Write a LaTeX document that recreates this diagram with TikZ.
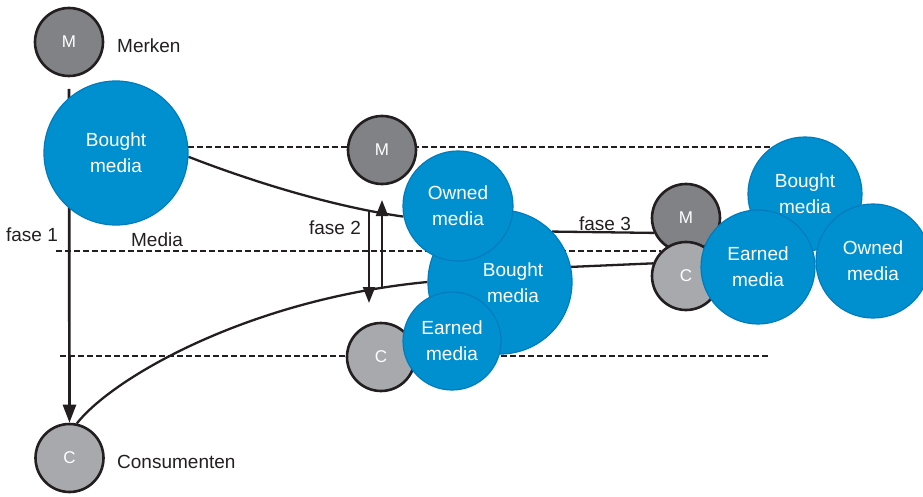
\documentclass[tikz,border=0pt]{standalone}
\usepackage{fontspec}
\setmainfont{Liberation Sans}
\usetikzlibrary{arrows.meta,calc}
\definecolor{mblue}{RGB}{0,144,207}
\definecolor{mbluedark}{RGB}{0,124,190}
\definecolor{mgray}{RGB}{128,130,133}
\definecolor{cgray}{RGB}{167,169,172}
\definecolor{ink}{RGB}{35,31,32}
\pgfdeclarelayer{bg}
\pgfsetlayers{bg,main}
\begin{document}
\begin{tikzpicture}[x=1pt,y=-1pt,
  mc/.style={circle, draw=ink, line width=2.6pt, fill=mgray, minimum size=68pt, inner sep=0pt, text=white, font=\fontsize{17}{19}\selectfont},
  cc/.style={mc, fill=cgray},
  bc/.style={circle, draw=mbluedark, line width=1.2pt, fill=mblue, inner sep=0pt, text=white, align=center, font=\fontsize{19}{26}\selectfont},
  btext/.style={text=white, align=center, inner sep=0pt, font=\fontsize{19}{26}\selectfont},
  lbl/.style={text=ink, inner sep=0pt, font=\fontsize{19}{22}\selectfont},
  dline/.style={draw=ink, line width=2.3pt, dash pattern=on 6pt off 3pt},
  conn/.style={draw=ink, line width=2.3pt},
  bigarr/.style={draw=ink, line width=2.7pt, -{Triangle[length=18pt,width=13pt]}},
  smallarr/.style={draw=ink, line width=2.4pt, -{Triangle[length=16pt,width=12pt]}},
]
\useasboundingbox (0,0) rectangle (923,497);

% nodes
\node[mc] (m1) at (69,42) {M};
\node[cc] (c1) at (69.5,458) {C};
\node[bc, minimum size=144pt] (bm1) at (116,153) {Bought\\media};

\node[mc] (m2) at (382,150) {M};
\node[cc] (c2) at (381,357) {C};
\node[bc, minimum size=144pt] (bm2) at (500,282) {};
\node[btext] (bm2t) at (513,283) {Bought\\media};
\node[bc, minimum size=110pt] (ow2) at (458,206) {Owned\\media};
\node[bc, minimum size=98pt] (ea2) at (452,341) {Earned\\media};

\node[mc] (m3) at (686,218) {M};
\node[cc] (c3) at (686,276) {C};
\node[bc, minimum size=114pt] (bm3) at (805,194) {Bought\\media};
\node[bc, minimum size=114pt] (ea3) at (758,267) {Earned\\media};
\node[bc, minimum size=114pt] (ow3) at (873,261) {Owned\\media};

% labels
\node[lbl, anchor=west] (merken) at (117,46) {Merken};
\node[lbl, anchor=west] (cons) at (117,462) {Consumenten};
\node[lbl] (f1) at (32,235) {fase 1};
\node[lbl] (media) at (157,240) {Media};
\node[lbl] (f2) at (335,228) {fase 2};
\node[lbl] (f3) at (605,224) {fase 3};

% free ends
\coordinate (d1a) at (188,147);
\coordinate (d1b) at (773,147);
\coordinate (d2a) at (56,251);
\coordinate (d2b) at (661,251);
\coordinate (d3a) at (60,356);
\coordinate (d3b) at (770,356);
\coordinate (v0) at (69,89);
\coordinate (f2a) at (369,212);
\coordinate (f2b) at (369,303);
\coordinate (f2c) at (382,289);
\coordinate (f2d) at (382,200);

\begin{pgfonlayer}{bg}
  \draw[dline] (d1a) -- (d1b);
  \draw[dline] (d2a) -- (d2b);
  \draw[dline] (d3a) -- (d3b);
  \draw[bigarr] (v0) -- (c1.north);
  \draw[conn] (bm1.-3) .. controls ($(bm1.-3)+(72,28)$) and ($(ow2.191)+(-64,-9)$) .. (ow2.191);
  \draw[conn] (c1.78) .. controls ($(c1.78)+(36,-46)$) and ($(bm2.180)+(-178,17)$) .. (bm2.180);
  \draw[conn] (bm2.44) -- (m3.205);
  \draw[conn] (bm2.12) -- (c3.159);
  \draw[smallarr] (f2a) -- (f2b);
  \draw[smallarr] (f2c) -- (f2d);
\end{pgfonlayer}
\end{tikzpicture}
\end{document}
